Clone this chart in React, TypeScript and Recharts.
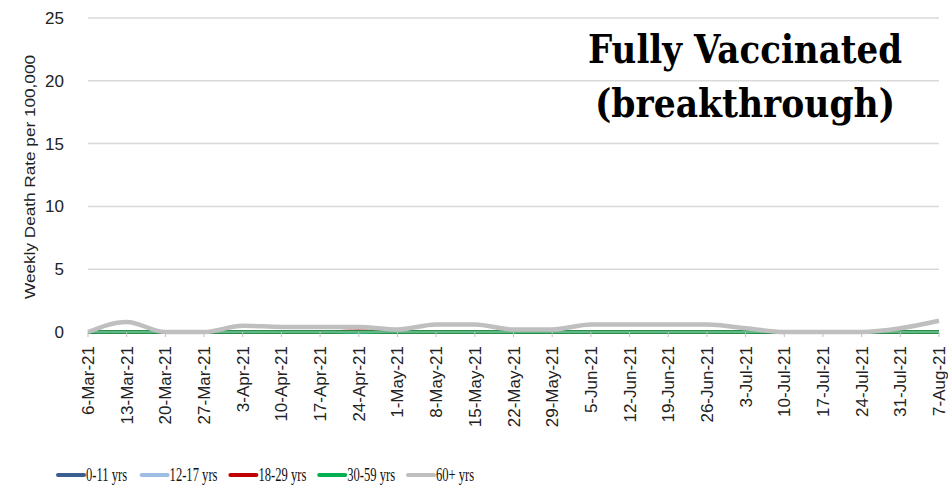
import { CartesianGrid, Legend, Line, LineChart, XAxis, YAxis } from "recharts";

const weeks = [
  "6-Mar-21", "13-Mar-21", "20-Mar-21", "27-Mar-21", "3-Apr-21", "10-Apr-21",
  "17-Apr-21", "24-Apr-21", "1-May-21", "8-May-21", "15-May-21", "22-May-21",
  "29-May-21", "5-Jun-21", "12-Jun-21", "19-Jun-21", "26-Jun-21", "3-Jul-21",
  "10-Jul-21", "17-Jul-21", "24-Jul-21", "31-Jul-21", "7-Aug-21",
];

const age0to11 = [0, 0, 0, 0, 0, 0, 0, 0, 0, 0, 0, 0, 0, 0, 0, 0, 0, 0, 0, 0, 0, 0, 0];
const age12to17 = [0, 0, 0, 0, 0, 0, 0, 0, 0, 0, 0, 0, 0, 0, 0, 0, 0, 0, 0, 0, 0, 0, 0];
const age18to29 = [0, 0, 0, 0, 0, 0, 0, 0.05, 0, 0, 0, 0, 0, 0, 0, 0, 0, 0, 0, 0, 0, 0, 0];
const age30to59 = [0, 0, 0, 0, 0, 0, 0, 0, 0, 0, 0, 0, 0, 0, 0, 0, 0, 0, 0, 0, 0, 0, 0];
const age60plus = [0, 0.8, 0, 0, 0.5, 0.4, 0.4, 0.4, 0.2, 0.6, 0.6, 0.2, 0.2, 0.6, 0.6, 0.6, 0.6, 0.3, 0, 0, 0, 0.3, 0.9];

const yTicks = [0, 5, 10, 15, 20, 25];

const series = [
  { key: "a", name: "0-11 yrs", color: "#3a5f8f", values: age0to11 },
  { key: "b", name: "12-17 yrs", color: "#9dbde3", values: age12to17 },
  { key: "c", name: "18-29 yrs", color: "#c00000", values: age18to29 },
  { key: "d", name: "30-59 yrs", color: "#00b050", values: age30to59 },
  { key: "e", name: "60+ yrs", color: "#bfbfbf", values: age60plus },
];

const data = weeks.map((week, i) => {
  const row: any = { week };
  series.forEach((s) => (row[s.key] = s.values[i]));
  return row;
});

const XTick = ({ x, y, payload }: any) => (
  <text
    x={x}
    y={y}
    transform={`rotate(-90, ${x}, ${y})`}
    dx={-7}
    dy={6}
    textAnchor="end"
    fontSize={17}
    fontFamily="Liberation Sans"
    fill="#222"
  >
    {payload.value}
  </text>
);

const YLabel = ({ viewBox }: any) => {
  const cx = viewBox.x + 30;
  const cy = viewBox.y + viewBox.height / 2 + 2;
  return (
    <text
      x={cx}
      y={cy}
      transform={`rotate(-90, ${cx}, ${cy})`}
      textAnchor="middle"
      dominantBaseline="central"
      fontSize={14.5}
      fontFamily="Liberation Sans"
      fill="#222"
      textLength={244}
      lengthAdjust="spacingAndGlyphs"
    >
      Weekly Death Rate per 100,000
    </text>
  );
};

// legend text is a narrow serif in the original: squeeze it horizontally
const legendTextWidth = (name: string) => name.length * 5.2;

// the Legend only reserves the strip; the items are drawn in the overlay below
const LegendSpacer = () => <div style={{ height: 30 }} />;

const LegendItems = () => {
  let x = 58;
  return (
    <g>
      {series.map((s) => {
        const x0 = x;
        const w = legendTextWidth(s.name);
        x += 28 + w + 14;
        return (
          <g key={s.key}>
            <line x1={x0} x2={x0 + 26} y1={475} y2={475} stroke={s.color} strokeWidth={4} strokeLinecap="round" />
            <text
              x={0}
              y={0}
              transform={`translate(${x0 + 28}, 481) scale(0.7, 1)`}
              fontFamily="Liberation Serif"
              fontSize={18}
              fill="#111"
            >
              {s.name}
            </text>
          </g>
        );
      })}
    </g>
  );
};

export default function App() {
  return (
    <div style={{ position: "absolute", left: 0, top: 0, width: 948, height: 490, background: "#fff" }}>
      <LineChart width={948} height={490} data={data} margin={{ top: 18, right: 9, left: 0, bottom: 0 }}>
        <CartesianGrid vertical={false} stroke="#d9d9d9" strokeWidth={1.5} />
        <XAxis
          dataKey="week"
          interval={0}
          height={128}
          tick={<XTick />}
          stroke="#bfbfbf"
          tickSize={5}
          tickLine={{ stroke: "#bfbfbf" }}
        />
        <YAxis
          domain={[0, 25]}
          ticks={yTicks}
          width={88}
          axisLine={false}
          tickLine={false}
          tickMargin={18}
          tick={{ fontSize: 17, fontFamily: "Liberation Sans", fill: "#222" }}
          label={<YLabel />}
        />
        <Legend verticalAlign="bottom" content={<LegendSpacer />} />
        {series.map((s) => (
          <Line
            key={s.key}
            type="monotone"
            dataKey={s.key}
            name={s.name}
            stroke={s.color}
            strokeWidth={s.key === "e" ? 4.5 : 3.5}
            dot={false}
            isAnimationActive={false}
          />
        ))}
      </LineChart>
      <svg
        width={948}
        height={490}
        style={{ position: "absolute", left: 0, top: 0, pointerEvents: "none" }}
      >
        <text
          x={745}
          y={63}
          textAnchor="middle"
          fontFamily="DejaVu Serif"
          fontWeight="bold"
          fontSize={40}
          textLength={314}
          lengthAdjust="spacingAndGlyphs"
          fill="#000"
        >
          Fully Vaccinated
        </text>
        <text
          x={745}
          y={117}
          textAnchor="middle"
          fontFamily="DejaVu Serif"
          fontWeight="bold"
          fontSize={40}
          textLength={300}
          lengthAdjust="spacingAndGlyphs"
          fill="#000"
        >
          (breakthrough)
        </text>
        <LegendItems />
      </svg>
    </div>
  );
}
